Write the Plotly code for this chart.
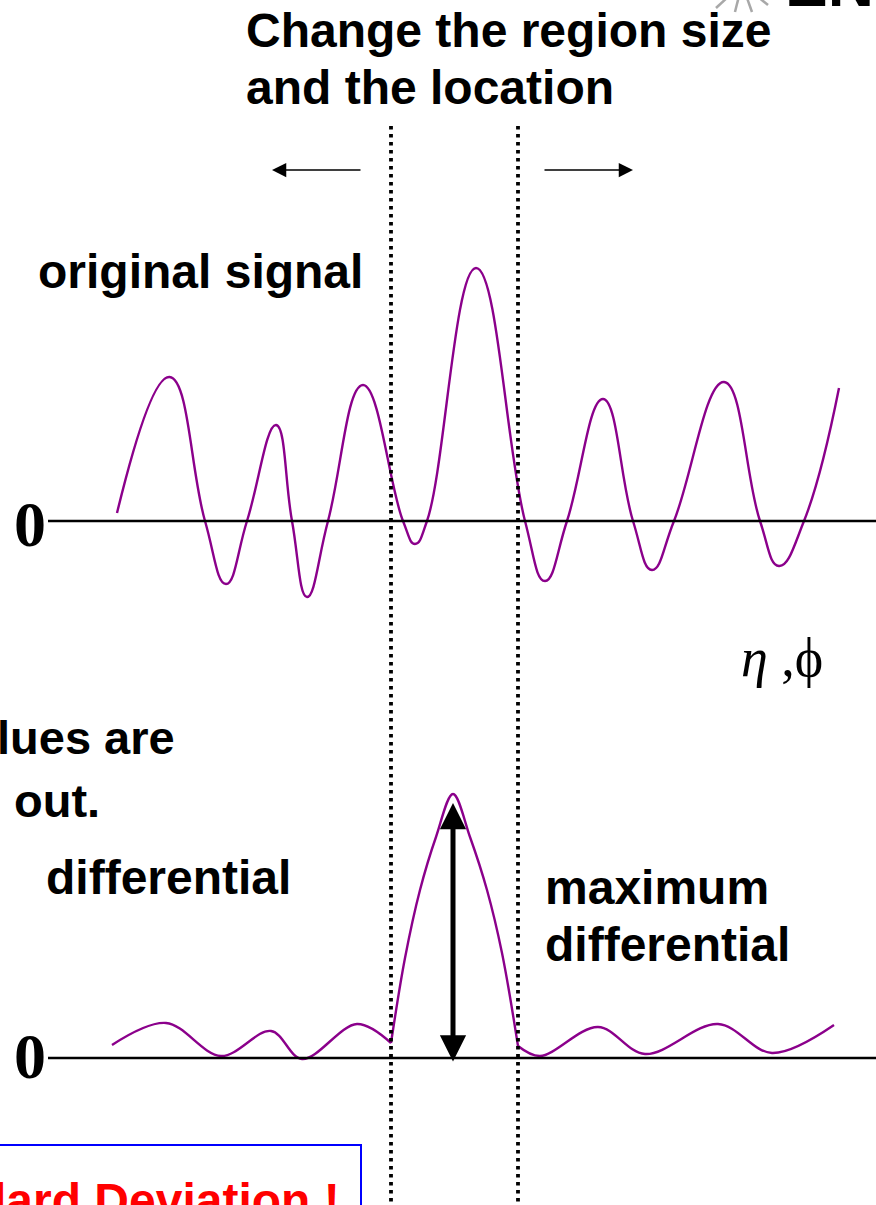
import plotly.graph_objects as go

W, H = 876, 1205

# Original signal sampled along eta/phi (peaks, troughs and zero crossings)
signal_x = [117, 169.5, 205, 226, 247, 276, 292, 307, 328, 363,
            403, 415, 427, 476, 525, 545, 567, 603, 633, 652,
            674, 724, 760, 779, 804, 839]
signal_y = [0.32, 5.76, 0.0, -2.52, 0.0, 3.84, 0.0, -3.04, 0.0, 5.44,
            0.0, -0.92, 0.0, 10.12, 0.0, -2.4, 0.0, 4.88, 0.0, -1.96,
            0.0, 5.56, 0.0, -1.8, 0.0, 5.32]

# Differential: outside the window (left / right) and the window itself
diff_left_x = [112, 166, 221, 271, 302, 357, 391]
diff_left_y = [0.52, 1.4, 0.08, 1.08, -0.04, 1.36, 0.6]
diff_peak_x = [391, 405, 420, 436, 453, 470, 487, 502, 518]
diff_peak_y = [0.6, 4.0, 6.72, 8.84, 10.56, 8.84, 6.72, 4.2, 0.48]
diff_right_x = [518, 540, 598, 645, 718, 772, 834]
diff_right_y = [0.48, 0.08, 1.24, 0.16, 1.36, 0.2, 1.32]

# Region edges (dotted) and maximum differential
region_edges = [391, 518]
max_diff_x = 453

PURPLE = "#8B008B"
SANS = "Liberation Sans, Arial, sans-serif"
SERIF = "Liberation Serif, Times New Roman, serif"


def px(x):
    return x / W


def py(y):
    return 1 - y / H


fig = go.Figure()
line = dict(color=PURPLE, width=2.4, shape="spline", smoothing=1.3)
fig.add_trace(go.Scatter(x=signal_x, y=signal_y, mode="lines", line=line, yaxis="y"))
for xs, ys in [(diff_left_x, diff_left_y), (diff_peak_x, diff_peak_y),
               (diff_right_x, diff_right_y)]:
    fig.add_trace(go.Scatter(x=xs, y=ys, mode="lines",
                             line=dict(line, smoothing=1.0), yaxis="y2"))

shapes = []
# zero baselines
for yref in ["y", "y2"]:
    shapes.append(dict(type="line", xref="paper", yref=yref, x0=px(48), x1=1,
                       y0=0, y1=0, line=dict(color="black", width=2.5)))
# dotted region edges
for xe in region_edges:
    shapes.append(dict(type="line", xref="x", yref="paper", x0=xe, x1=xe,
                       y0=py(126), y1=0, line=dict(color="black", width=3.8, dash="3.5px,4.5px")))
# blue box at bottom left
shapes.append(dict(type="rect", xref="paper", yref="paper", x0=px(-5), x1=px(361),
                   y0=py(1145), y1=py(1220), line=dict(color="#0000FF", width=2)))
# logo starburst
for ex, ey in [(716, 8), (735, 12), (752, 12), (768, 5)]:
    shapes.append(dict(type="line", xref="paper", yref="paper", x0=px(742), y0=py(-16),
                       x1=px(ex), y1=py(ey), line=dict(color="#A8A8A8", width=2.5)))

annotations = []


def label(text, x, y, size=48, color="black", anchor="left", family=SANS):
    annotations.append(dict(text=text, x=px(x), y=py(y), xref="paper", yref="paper",
                            xanchor=anchor, yanchor="middle", showarrow=False,
                            font=dict(family=family, size=size, color=color)))


label("<b>Change the region size</b>", 244, 30)
label("<b>and the location</b>", 244, 88)
label("<b>original signal</b>", 36, 272)
label("<b>lues are</b>", -5, 737, size=47)
label("<b>out.</b>", 12, 800, size=47)
label("<b>differential</b>", 44, 877)
label("<b>maximum</b>", 543, 887)
label("<b>differential</b>", 543, 944)
label("<b>0</b>", 30, 524, size=64, anchor="center", family=SERIF)
label("<b>0</b>", 30, 1056, size=64, anchor="center", family=SERIF)
label("<i>η</i> ,ϕ", 782, 658, size=54, anchor="center", family=SERIF)
label("<b>Standard Deviation !</b>", 342, 1200, size=48, color="#FF0000", anchor="right")
label("<b>EN</b>", 783, -16, size=64, anchor="left")

# horizontal arrows
annotations.append(dict(x=px(272), y=py(170), xref="paper", yref="paper", ax=90, ay=0,
                        showarrow=True, arrowhead=2, arrowsize=1.9, arrowwidth=1.5,
                        arrowcolor="black", text=""))
annotations.append(dict(x=px(633), y=py(170), xref="paper", yref="paper", ax=-90, ay=0,
                        showarrow=True, arrowhead=2, arrowsize=1.9, arrowwidth=1.5,
                        arrowcolor="black", text=""))
# maximum differential double arrow
annotations.append(dict(x=max_diff_x, y=py(803), xref="x", yref="paper", ax=0, ay=260,
                        showarrow=True, arrowhead=2, startarrowhead=2, arrowside="end+start",
                        arrowsize=1.05, startarrowsize=1.05, arrowwidth=5,
                        arrowcolor="black", text=""))

fig.update_layout(
    width=W, height=H, margin=dict(l=0, r=0, t=0, b=0),
    paper_bgcolor="white", plot_bgcolor="white", showlegend=False,
    xaxis=dict(range=[0, W], visible=False, fixedrange=True),
    yaxis=dict(range=[-(H - 521) / 25, 521 / 25], visible=False, domain=[0, 1]),
    yaxis2=dict(range=[-(H - 1058) / 25, 1058 / 25], visible=False, overlaying="y",
                domain=[0, 1]),
    shapes=shapes, annotations=annotations,
)

fig.write_html("out.html")
